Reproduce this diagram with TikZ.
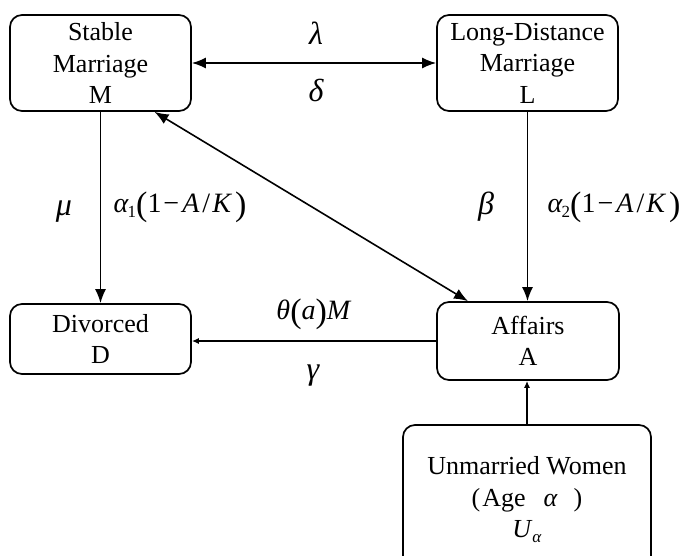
\documentclass[tikz,border=0pt]{standalone}
\usepackage{fontspec}
\setmainfont{Liberation Serif}
\usetikzlibrary{arrows.meta,calc}
\newcommand\bigparen[1]{\raisebox{-3pt}{\fontsize{34}{34}\selectfont #1}}
\newcommand\lowsub[1]{\raisebox{-5pt}{\fontsize{17}{17}\selectfont #1}}
\newcommand\rateterm[1]{\textit{α}\kern-1pt\lowsub{#1}\bigparen{(}1\kern2pt−\kern3pt\textit{A}\kern3pt/\kern2pt\textit{K}\kern3pt\bigparen{)}}
\begin{document}
\begin{tikzpicture}[x=1pt,y=-1pt,
  box/.style={draw,line width=1.7pt,rounded corners=12pt,align=center,inner sep=0pt,
              font=\fontsize{26}{31.5}\selectfont},
  conn/.style={line width=1.6pt},
  bigtip/.style={-{Latex[length=14pt,width=11pt]}},
  bigboth/.style={{Latex[length=14pt,width=11pt]}-{Latex[length=14pt,width=11pt]}},
  smalltip/.style={-{Latex[length=7pt,width=6pt]}},
  greek/.style={inner sep=0pt,font=\fontsize{32}{32}\selectfont\itshape},
  rate/.style={inner sep=0pt,font=\fontsize{28}{28}\selectfont}]
\useasboundingbox (0,0) rectangle (688,555);
\clip (0,0) rectangle (688,555);
\node[box,minimum width=181pt,minimum height=96pt] (M) at (100.5,63) {Stable\\Marriage\\M};
\node[box,minimum width=181pt,minimum height=96pt] (L) at (527.5,63) {Long-Distance\\Marriage\\L};
\node[box,minimum width=181pt,minimum height=70pt] (D) at (100.5,339) {Divorced\\D};
\node[box,minimum width=182pt,minimum height=78pt] (A) at (528,341) {Affairs\\A};
\node[box,minimum width=248pt,minimum height=150pt] (U) at (527,500)
  {Unmarried Women\\(\kern2pt Age\hspace{18pt}\textit{α}\hspace{16pt})\\\textit{U}\lowsub{\textit{α}}};
\draw[conn,bigboth] (M) -- (L);
\draw[conn,bigtip] (M.south) -- (D.north);
\draw[conn,bigtip] (L.south) -- (L.south |- A.north);
\draw[conn,smalltip] (A.west) -- (A.west -| D.east);
\draw[conn,bigboth] ([xshift=54pt]M.south) -- ([xshift=-60pt]A.north);
\draw[conn,smalltip] (U.north) -- (U.north |- A.south);
\node[greek] (lam) at (316,33) {λ};
\node[greek] (del) at (316,90) {δ};
\node[greek] (mu) at (64,212) {μ};
\node[greek] (bet) at (486,207) {β};
\node[greek] (gam) at (313,376) {γ};
\node[rate] (r1) at (180,207) {\rateterm{1}};
\node[rate] (r2) at (614,207) {\rateterm{2}};
\node[rate] (th) at (314,314) {\textit{θ}\bigparen{(}\textit{a}\bigparen{)}\textit{M}};
\end{tikzpicture}
\end{document}
